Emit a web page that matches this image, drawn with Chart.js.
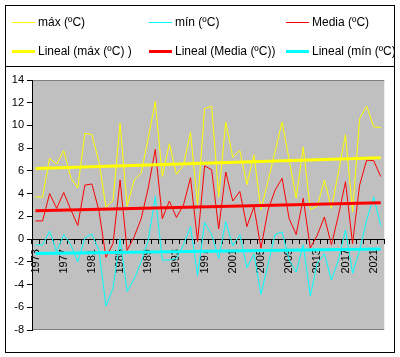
<!DOCTYPE html>
<html><head><meta charset="utf-8">
<script src="https://cdn.jsdelivr.net/npm/chart.js@4"></script>
<style>
body{margin:0;background:#fff}
#wrap{position:relative;width:400px;height:357px;font-family:"Liberation Sans",Arial,sans-serif}
canvas{position:absolute;left:0;top:0}
#legend{position:absolute;left:5px;top:5px;width:389px;height:61px;overflow:hidden}
.item{position:absolute;font-size:12px;line-height:14px;white-space:nowrap;color:#000}
.sw{position:absolute;width:23px}
</style></head>
<body><div id="wrap"><canvas id="c" width="400" height="357"></canvas><div id="legend"></div></div>
<script>
const years = ['1973','1974','1975','1976','1977','1978','1979','1980','1981','1982',
  '1983','1984','1985','1986','1987','1988','1989','1990','1991','1992',
  '1993','1994','1995','1996','1997','1998','1999','2000','2001','2002',
  '2003','2004','2005','2006','2007','2008','2009','2010','2011','2012',
  '2013','2014','2015','2016','2017','2018','2019','2020','2021','2022'];
const maxT = [3.7,3.7,7.1,6.6,7.8,5.4,4.5,9.3,9.2,6.8,
  2.8,3.4,10.2,2.9,5.2,5.8,8.9,12.1,5.5,8.4,
  5.7,6.5,9.4,3.0,11.5,11.7,3.7,10.3,7.2,7.8,
  4.8,7.4,2.6,5.1,7.7,10.3,7.0,3.6,8.1,2.6,
  2.9,5.2,2.7,5.9,9.2,2.4,10.6,11.7,9.9,9.8];
const minT = [-0.5,-0.5,0.7,-1.1,0.4,-0.5,-2.0,0.1,0.45,-1.0,
  -5.9,-4.3,0.0,-4.6,-3.5,-2.0,-0.1,3.75,-1.85,-1.85,
  -1.7,-0.5,1.1,-3.2,1.45,0.4,-1.7,1.55,-0.6,0.4,
  -2.5,-1.3,-4.85,-2.2,0.4,0.64,-1.85,-2.9,-0.5,-5.0,
  -2.1,-1.3,-3.6,-1.85,0.8,-3.0,-1.0,1.7,3.7,1.2];
const meanT = [1.6,1.6,4.0,2.7,4.1,2.6,1.2,4.75,4.85,2.5,
  -1.6,-0.4,5.2,-1.0,0.2,1.8,4.5,7.9,1.8,3.35,
  1.9,3.0,5.4,-0.2,6.45,6.1,0.9,5.9,3.35,4.2,
  1.1,2.85,-0.8,2.55,4.3,5.35,1.8,0.4,3.6,-0.8,
  0.35,1.95,-0.5,2.1,5.05,-0.4,4.75,6.95,6.9,5.5];
const trendYears = ['1973','2022'];
const trendMax = [6.22,7.16];
const trendMean = [2.49,3.2];
const trendMin = [-1.26,-0.88];
const yTicks = {min:-8, max:14, step:2};

function ends(vals){ return trendYears.map((y,i)=>({x:y, y:vals[i]})); }

const framePlugin = {
  id:'frame',
  beforeDraw(chart){
    const {ctx, chartArea:a} = chart;
    ctx.save();
    ctx.fillStyle = '#C0C0C0';
    ctx.fillRect(a.left, a.top, a.right-a.left, a.bottom-a.top);
    ctx.strokeStyle = '#808080'; ctx.lineWidth = 1;
    ctx.beginPath();
    ctx.moveTo(a.left, a.top+0.5); ctx.lineTo(a.right, a.top+0.5);
    ctx.moveTo(a.left, a.bottom-0.5); ctx.lineTo(a.right, a.bottom-0.5);
    ctx.stroke();
    ctx.restore();
  },
  afterDraw(chart){
    const ctx = chart.ctx;
    ctx.save();
    ctx.strokeStyle = '#000'; ctx.lineWidth = 1;
    ctx.strokeRect(5.5, 5.5, 389, 347);
    ctx.beginPath(); ctx.moveTo(5, 66.5); ctx.lineTo(395, 66.5); ctx.stroke();
    ctx.restore();
  }
};

const chart = new Chart(document.getElementById('c'), {
  type:'line',
  data:{
    labels: years,
    datasets:[
      {label:'máx (ºC)', data:maxT, borderColor:'#FFFF00', borderWidth:1, order:2},
      {label:'mín (ºC)', data:minT, borderColor:'#00FFFF', borderWidth:1, order:2},
      {label:'Media (ºC)', data:meanT, borderColor:'#FF0000', borderWidth:1, order:2},
      {label:'Lineal (máx (ºC) )', data:ends(trendMax), borderColor:'#FFFF00', borderWidth:3, order:1},
      {label:'Lineal (Media (ºC))', data:ends(trendMean), borderColor:'#FF0000', borderWidth:3, order:1},
      {label:'Lineal (mín (ºC))', data:ends(trendMin), borderColor:'#00FFFF', borderWidth:3, order:1}
    ]
  },
  options:{
    responsive:false, animation:false,
    elements:{point:{radius:0}, line:{tension:0}},
    layout:{padding:{top:80, bottom:27, left:0, right:6}},
    plugins:{legend:{display:false}, tooltip:{enabled:false}},
    scales:{
      x:{
        type:'category', offset:true,
        position:{y:0},
        afterFit(s){ s.height = 0; },
        border:{color:'#000', width:1},
        grid:{drawOnChartArea:false, drawTicks:true, tickLength:4, color:'#000', offset:true},
        ticks:{autoSkip:false, maxRotation:90, minRotation:90, padding:6, color:'#000',
          font:{family:'"Liberation Sans", Arial', size:11},
          callback:(v,i)=> (i%4===0 ? years[i] : '')}
      },
      y:{
        min:yTicks.min, max:yTicks.max,
        afterFit(s){ s.width = 32; },
        border:{color:'#000', width:1},
        grid:{drawOnChartArea:false, drawTicks:true, tickLength:5, color:'#000'},
        ticks:{stepSize:yTicks.step, padding:3, color:'#000',
          font:{family:'"Liberation Sans", Arial', size:11}}
      }
    }
  },
  plugins:[framePlugin]
});

// HTML legend built from the datasets
const leg = document.getElementById('legend');
const colX = [7,144,281], rowY = [17,46];
chart.data.datasets.forEach((ds,i)=>{
  const col = i%3, row = Math.floor(i/3);
  const sw = document.createElement('div');
  sw.className = 'sw';
  sw.style.left = colX[col]+'px';
  sw.style.height = ds.borderWidth+'px';
  sw.style.top = (rowY[row]-Math.floor(ds.borderWidth/2))+'px';
  sw.style.background = ds.borderColor;
  leg.appendChild(sw);
  const t = document.createElement('div');
  t.className = 'item';
  t.style.left = (colX[col]+26)+'px';
  t.style.top = (rowY[row]-7)+'px';
  t.textContent = ds.label;
  leg.appendChild(t);
});
</script>
</body></html>
